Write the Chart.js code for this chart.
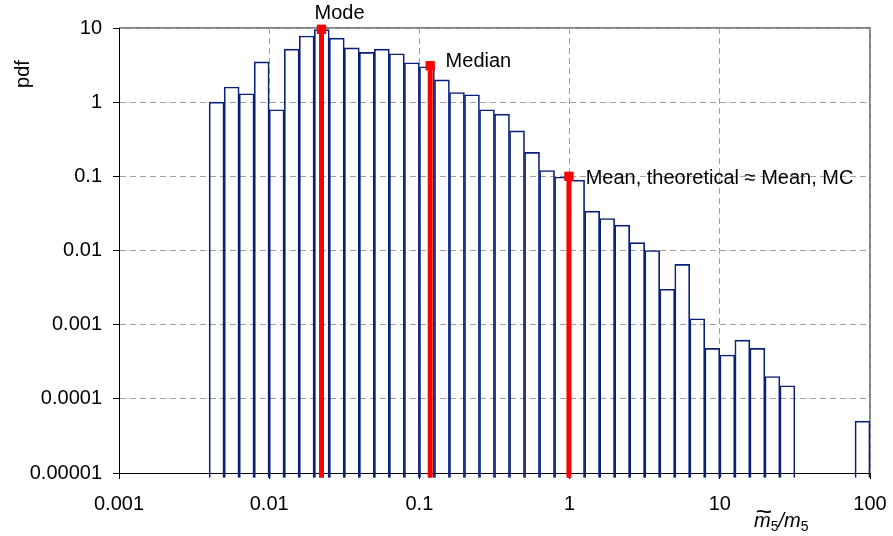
<!DOCTYPE html>
<html><head><meta charset="utf-8">
<script src="https://cdn.jsdelivr.net/npm/chart.js@4.4.1/dist/chart.umd.min.js"></script>
<style>html,body{margin:0;padding:0;background:#fff;}#wrap{width:893px;height:536px;}</style>
</head><body><div id="wrap"><canvas id="c" width="893" height="536"></canvas></div>
<script>
// ---- data ----
const binCenters = [0.004467, 0.005623, 0.007079, 0.008913, 0.01122, 0.01413, 0.01778, 0.02239, 0.02818, 0.03548,
  0.04467, 0.05623, 0.07079, 0.08913, 0.1122, 0.1413, 0.1778, 0.2239, 0.2818, 0.3548,
  0.4467, 0.5623, 0.7079, 0.8913, 1.122, 1.413, 1.778, 2.239, 2.818, 3.548,
  4.467, 5.623, 7.079, 8.913, 11.22, 14.13, 17.78, 22.39, 28.18, 89.13];
const pdfValues = [1.0, 1.6, 1.3, 3.5, 0.79, 5.2, 7.8, 9.5, 7.3, 5.4,
  4.7, 5.2, 4.5, 3.4, 3.0, 2.0, 1.35, 1.26, 0.79, 0.69,
  0.41, 0.21, 0.12, 0.098, 0.089, 0.034, 0.027, 0.022, 0.0128, 0.010,
  0.003, 0.0065, 0.0012, 0.00048, 0.00039, 0.00062, 0.00048, 0.0002, 0.00015, 0.00005];
const xTickValues = [0.001, 0.01, 0.1, 1, 10, 100];
const xTickLabels = ['0.001', '0.01', '0.1', '1', '10', '100'];
const yTickValues = [0.00001, 0.0001, 0.001, 0.01, 0.1, 1, 10];
const yTickLabels = ['0.00001', '0.0001', '0.001', '0.01', '0.1', '1', '10'];
const statNames = ['Mode', 'Median', 'Mean, theoretical \u2248 Mean, MC'];
const statX = [0.0223, 0.118, 0.99];
const statY = [9.6, 3.1, 0.1];

// ---- styling / layout (not data) ----
const labelOffsets = [[-7, -10.5], [15.4, 1.3], [16.7, 7.6]];
const FONT = '"Liberation Sans", Arial, sans-serif';
const baseBelow = 8.6e-6;

Chart.defaults.font.family = FONT;
Chart.defaults.font.size = 20;
Chart.defaults.color = '#000';

const datasets = [{
  type: 'bar',
  data: binCenters.map((x, i) => ({x: x, y: pdfValues[i]})),
  backgroundColor: 'rgba(0,0,0,0)',
  borderColor: '#0a1f78',
  borderWidth: 1,
  barPercentage: 1,
  categoryPercentage: 1,
  base: baseBelow,
  clip: false,
  order: 2
}];
statX.forEach((sx, i) => {
  datasets.push({
    type: 'line',
    data: [{x: sx, y: baseBelow}, {x: sx, y: statY[i]}],
    borderColor: '#ff0000',
    borderWidth: 5,
    borderCapStyle: 'butt',
    pointRadius: [0, 6.6],
    pointHoverRadius: 0,
    pointStyle: 'rect',
    pointBackgroundColor: '#ff0000',
    pointBorderWidth: 0,
    clip: false,
    order: 0
  });
});

const frame = {
  id: 'frame',
  beforeDraw(chart) {
    const {ctx, chartArea: a} = chart;
    ctx.save();
    ctx.fillStyle = '#fff';
    ctx.fillRect(0, 0, chart.width, chart.height);
    ctx.strokeStyle = '#808080';
    ctx.lineWidth = 2;
    ctx.beginPath();
    ctx.moveTo(a.left, a.top);
    ctx.lineTo(a.right, a.top);
    ctx.lineTo(a.right, a.bottom);
    ctx.stroke();
    ctx.restore();
  },
  afterDraw(chart) {
    const {ctx, chartArea: a} = chart;
    const xs = chart.scales.x, ys = chart.scales.y;
    ctx.save();
    ctx.fillStyle = '#000';
    ctx.font = '20px ' + FONT;
    ctx.textAlign = 'left';
    ctx.textBaseline = 'alphabetic';
    statNames.forEach((t, i) => {
      const px = xs.getPixelForValue(statX[i]);
      const py = ys.getPixelForValue(statY[i]);
      ctx.fillText(t, px + labelOffsets[i][0], py + labelOffsets[i][1]);
    });
    // y title
    ctx.save();
    ctx.translate(29, 74);
    ctx.rotate(-Math.PI / 2);
    ctx.textAlign = 'center';
    ctx.fillText('pdf', 0, 0);
    ctx.restore();
    // x title: m~5 / m5
    let x = a.right - 116, y = 527;
    ctx.font = 'italic 20px ' + FONT;
    const mW = ctx.measureText('m').width;
    ctx.fillText('m', x, y);
    // tilde over first m
    ctx.save();
    ctx.font = '26px ' + FONT;
    const tW = ctx.measureText('~').width;
    ctx.translate(x + mW / 2 + 1.5, y - 7);
    ctx.scale(mW / tW * 1.0, 1);
    ctx.textAlign = 'center';
    ctx.fillText('~', 0, 0);
    ctx.restore();
    x += mW;
    ctx.font = '14px ' + FONT;
    ctx.fillText('5', x, y + 4);
    x += ctx.measureText('5').width;
    ctx.font = 'italic 20px ' + FONT;
    ctx.fillText('/', x, y);
    x += ctx.measureText('/').width;
    ctx.fillText('m', x, y);
    x += mW;
    ctx.font = '14px ' + FONT;
    ctx.fillText('5', x, y + 4);
    ctx.restore();
  }
};

new Chart(document.getElementById('c'), {
  type: 'bar',
  data: {datasets: datasets},
  options: {
    responsive: false,
    animation: false,
    devicePixelRatio: 1,
    layout: {padding: {left: 0, top: 28, right: 23, bottom: 0}},
    plugins: {legend: {display: false}, tooltip: {enabled: false}},
    scales: {
      x: {
        type: 'logarithmic',
        min: 0.001, max: 100,
        offset: false,
        afterBuildTicks: s => { s.ticks = xTickValues.map(v => ({value: v})); },
        afterFit: s => { s.height = 63; s.paddingLeft = 0; s.paddingRight = 0; },
        ticks: {callback: (v, i) => xTickLabels[i], autoSkip: false, maxRotation: 0, padding: 13, color: '#000', font: {size: 20}},
        grid: {offset: false, color: '#a0a0a0', lineWidth: 1, tickColor: '#000', tickLength: 6, tickBorderDash: []},
        border: {display: true, color: '#000', width: 1, dash: [6, 4]}
      },
      y: {
        type: 'logarithmic',
        min: 0.00001, max: 10,
        afterBuildTicks: s => { s.ticks = yTickValues.map(v => ({value: v})); },
        afterFit: s => { s.width = 119; s.paddingTop = 0; s.paddingBottom = 0; },
        ticks: {callback: (v, i) => yTickLabels[i], autoSkip: false, padding: 11, color: '#000', font: {size: 20}},
        grid: {color: '#a0a0a0', lineWidth: 1, tickColor: '#000', tickLength: 6, tickBorderDash: []},
        border: {display: true, color: '#000', width: 1, dash: [6, 4]}
      }
    }
  },
  plugins: [frame]
});
</script></body></html>
